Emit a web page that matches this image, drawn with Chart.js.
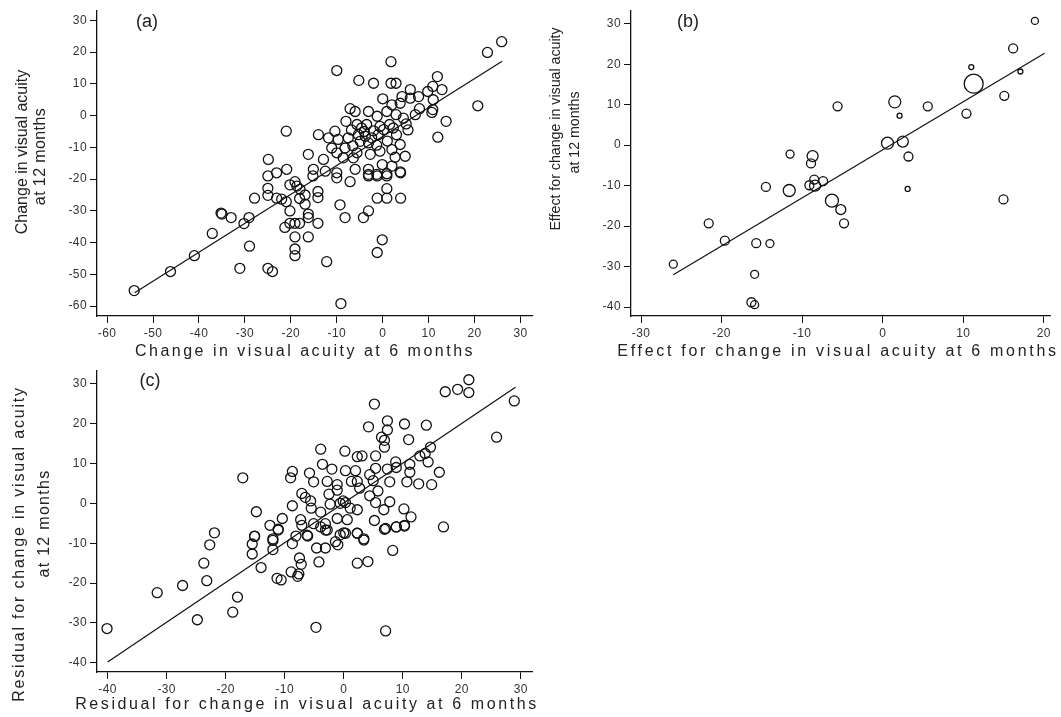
<!DOCTYPE html>
<html>
<head>
<meta charset="utf-8">
<script src="https://cdn.jsdelivr.net/npm/chart.js@4.4.1/dist/chart.umd.min.js"></script>
<style>
  body{margin:0;background:#fff;}
  #wrap{position:relative;width:1061px;height:717px;}
  canvas{position:absolute;}
</style>
</head>
<body>
<div id="wrap">
  <canvas id="chartA" width="540" height="365" style="left:0;top:0"></canvas>
  <canvas id="chartB" width="521" height="365" style="left:540px;top:0"></canvas>
  <canvas id="chartC" width="540" height="357" style="left:0;top:360px"></canvas>
</div>
<script>
// ---- data: panel (a) change at 6 vs 12 months ----
const aX=[25.9,22.8,1.8,-10.0,-5.2,-2.0,1.8,2.9,11.9,10.9,12.9,6.0,4.2,9.8,7.8,11.0,0.0,6.0,20.7,10.9,10.7,3.8,2.0,8.0,7.1,13.8,12.0,
  -7.1,-6.0,-3.1,0.9,-1.2,2.9,4.5,5.1,2.3,1.5,-8.0,-5.6,-4.6,-3.5,-0.6,0.2,-5.3,-3.8,-2.4,-4.9,-3.1,-1.3,3.8,
  -21.0,-14.0,-11.8,-10.4,-9.7,-8.2,-11.1,-10.0,-16.2,-12.9,-8.6,-6.4,-5.6,-2.7,-0.6,2.0,4.9,2.7,
  -24.9,-20.9,-23.1,-15.1,-12.5,-10.0,-6.0,-3.1,-1.3,0.9,3.8,-0.1,2.0,
  -25.0,-25.0,-25.0,-27.9,-23.1,-22.0,-21.0,-20.2,-20.2,-19.1,-18.7,-18.0,-16.9,-18.1,-16.9,-16.2,-16.2,-14.1,-14.1,-14.1,
  -21.3,-20.2,-19.1,-18.1,-19.1,-19.1,-19.1,-16.2,-35.2,-35.0,-33.0,-30.2,-29.1,-37.1,-29.0,-41.0,-31.1,-25.0,-24.0,-46.2,-54.1,
  -12.2,-9.1,-9.3,-8.2,-4.2,-3.1,-0.1,-1.2,-1.2,0.9,3.9,0.9,-1.2,0.9,3.9,-3.1,-3.1,-7.1,-10.0,-15.2,
  -6.8,-4.0,-2.0,-6.5,-1.0,1.0,3.0,5.5,-7.5];
const aY=[23.3,19.9,17.0,14.2,11.1,10.2,10.2,10.2,12.3,9.2,8.2,8.2,6.0,7.6,6.0,5.0,5.3,5.5,3.1,1.9,1.0,3.9,3.4,2.2,0.3,-1.8,-6.8,
  2.2,1.3,1.3,1.3,-0.2,0.3,-0.8,-2.6,-3.9,-2.8,-1.8,-2.8,-3.9,-2.8,-3.4,-4.4,-6.0,-6.5,-7.0,-8.1,-8.6,-9.3,-9.1,
  -4.9,-6.0,-7.0,-4.9,-7.5,-10.2,-10.2,-11.7,-12.2,-13.8,-13.3,-13.3,-11.7,-12.2,-11.2,-10.7,-12.8,-13.1,
  -13.8,-16.9,-18.0,-16.9,-17.5,-18.0,-16.9,-18.5,-18.5,-18.3,-17.7,-15.4,-15.9,
  -19.0,-22.9,-25.1,-26.0,-26.0,-26.3,-27.1,-30.0,-21.8,-20.8,-22.2,-23.2,-25.0,-26.1,-27.9,-31.0,-32.1,-23.9,-25.8,-33.9,
  -35.2,-33.9,-33.9,-33.9,-38.2,-42.0,-44.1,-38.2,-30.7,-31.0,-32.1,-34.0,-32.1,-37.1,-41.1,-44.1,-48.1,-48.1,-49.1,-49.1,-55.1,
  -46.0,-59.2,-28.1,-32.1,-32.1,-30.0,-39.1,-43.1,-26.0,-26.0,-26.0,-23.0,-19.0,-19.0,-18.0,-19.0,-16.9,-20.8,-19.6,-19.0,
  -4.5,-5.0,-4.8,-9.5,-6.0,-8.0,-6.0,-4.5,-7.0];
const aFitX=[-54.0,26.0];
const aFitY=[-55.8,17.1];

// ---- data: panel (b) effects, circle size = weight ----
const bX=[18.9,16.2,17.1,11.0,11.3,15.1,10.4,5.6,1.5,2.1,0.6,2.5,3.2,-5.6,-11.5,-8.7,-8.9,
  -14.5,-11.6,-9.1,-8.5,-8.4,-7.4,-6.3,-5.2,-4.8,3.1,15.0,-21.6,-19.6,-15.7,-14.0,-26.0,-15.9,-16.3,-15.9];
const bY=[30.7,23.9,18.2,19.3,15.2,12.2,7.8,9.6,10.7,7.3,0.5,0.9,-2.8,9.6,-2.2,-2.7,-4.5,
  -10.3,-11.2,-9.9,-8.5,-10.0,-8.9,-13.7,-15.9,-19.3,-10.8,-13.4,-19.3,-23.6,-24.2,-24.3,-29.4,-31.9,-38.8,-39.4];
const bSize=[3.5,4.5,2.5,2.5,9.5,4.5,4.5,4.5,6,2.5,6,5.5,4.5,4.5,4,5.5,4.5,
  4.5,6,4.5,4.5,5.5,4.5,6.5,5,4.5,2.5,4.5,4.5,4.5,4.5,4,4,4,4.5,4];
const bFitX=[-26.0,20.1];
const bFitY=[-32.0,22.7];

// ---- data: panel (c) residuals ----
const cX=[21.2,17.2,19.3,21.2,28.9,5.2,25.9,7.4,7.4,4.2,10.3,14.0,11.0,6.4,6.9,6.9,14.7,13.8,14.3,12.9,
  -3.9,0.2,5.4,2.3,3.1,-3.6,-2.0,0.3,2.0,5.4,7.4,8.8,8.9,11.2,16.2,11.2,10.7,12.7,14.9,7.8,
  4.4,5.0,2.3,1.3,2.7,5.8,4.4,5.4,7.8,6.8,10.2,11.4,16.9,10.3,8.9,7.1,5.2,
  -17.1,-9.0,-8.7,-5.8,-5.1,-2.8,-1.1,-7.1,-6.5,-5.6,-5.5,-8.7,-2.5,-1.1,-0.1,0.3,-0.6,1.1,2.3,-2.3,-3.9,-3.1,-1.1,0.6,
  -14.8,-10.4,-12.5,-11.1,-7.1,-7.3,-5.1,-3.9,-2.8,0.0,2.3,-21.9,-15.1,-6.2,3.4,-12.0,
  -22.7,-23.7,-23.2,-27.3,-31.6,-24.8,-18.8,-18.0,-40.1,-4.7,7.1,-15.1,-15.5,-15.5,-14.0,-12.0,-12.0,-11.1,-11.3,-10.6,
  -8.7,-8.1,-6.1,-7.5,-7.2,-8.9,-7.6,-7.8,-4.2,-4.6,-3.1,-3.1,-1.4,-1.0,-0.6,0.3,2.3,3.4,2.3,4.1,8.3,6.9,8.9,10.3];
const cY=[31.0,28.0,28.6,27.8,25.7,24.9,16.6,20.7,18.4,19.2,19.9,19.6,16.0,16.6,15.8,14.1,14.1,12.5,10.4,11.9,
  13.6,13.1,11.9,11.7,11.9,9.8,8.6,8.2,8.2,8.8,8.6,10.4,9.0,9.8,7.8,7.8,5.4,4.9,4.7,5.4,
  7.2,5.7,5.5,5.5,3.8,3.1,1.9,0.2,0.4,-1.6,-1.4,-3.4,-5.9,-5.5,-5.9,-6.3,-4.3,
  6.4,6.4,8.0,7.6,5.4,5.5,4.7,2.5,1.5,0.6,-1.2,-0.6,2.3,3.3,0.6,0.2,0.0,-1.2,-1.6,-0.2,-2.2,-5.1,-3.8,-4.1,
  -2.1,-3.8,-5.5,-6.5,-5.5,-4.1,-5.1,-5.9,-6.7,-7.4,-7.5,-7.4,-8.2,-8.0,-8.9,-8.9,
  -10.4,-15.0,-19.4,-20.6,-22.4,-29.2,-27.3,-23.5,-31.4,-31.1,-32.0,-8.3,-10.2,-12.7,-16.1,-9.3,-11.6,-6.7,-18.8,-19.2,
  -10.1,-8.2,-8.2,-13.7,-15.3,-17.2,-17.7,-18.3,-14.7,-11.2,-11.2,-6.7,-9.6,-10.4,-7.9,-7.5,-7.5,-9.2,-15.0,-14.6,-11.8,-6.5,-5.9,-5.7];
const cFitX=[-40.0,29.1];
const cFitY=[-39.8,29.1];

// ---- tick labels ----
const aXTicks=[-60,-50,-40,-30,-20,-10,0,10,20,30];
const aYTicks=[-60,-50,-40,-30,-20,-10,0,10,20,30];
const bXTicks=[-30,-20,-10,0,10,20];
const bYTicks=[-40,-30,-20,-10,0,10,20,30];
const cXTicks=[-40,-30,-20,-10,0,10,20,30];
const cYTicks=[-40,-30,-20,-10,0,10,20,30];

const FONT='"Liberation Sans", Arial, Helvetica, sans-serif';
const pts=(xs,ys)=>xs.map((x,i)=>({x,y:ys[i]}));

// panel captions and axis titles, drawn with letter spacing
const panelText={
  id:'panelText',
  beforeDraw(chart){ chart.ctx.letterSpacing='0.4px'; },
  afterDraw(chart,args,o){
    const ctx=chart.ctx;
    ctx.save();
    ctx.fillStyle='#222';
    ctx.textAlign='center';ctx.textBaseline='middle';
    ctx.font='18px '+FONT;ctx.letterSpacing='0px';
    ctx.fillText(o.tag,o.tagX,o.tagY);
    ctx.font=o.xSize+'px '+FONT;ctx.letterSpacing=o.xSpacing+'px';
    ctx.fillText(o.xTitle,o.xTitleX,o.xTitleY);
    o.yTitle.forEach((t,i)=>{
      ctx.save();
      ctx.translate(o.yTitleX[i],o.yTitleY[i]);
      ctx.rotate(-Math.PI/2);
      ctx.font=o.ySize+'px '+FONT;ctx.letterSpacing=o.ySpacing[i]+'px';
      ctx.fillText(t,0,0);
      ctx.restore();
    });
    ctx.restore();
  }
};

function axis(ticks,min,max,isX){
  return {
    type:'linear',min:min,max:max,
    afterBuildTicks:s=>{s.ticks=ticks.map(v=>({value:v}));},
    afterFit:s=>{ if(isX) s.height=30; else s.width=40; },
    grid:{drawOnChartArea:false,drawTicks:true,tickLength:7,color:'#111',lineWidth:1},
    border:{display:true,color:'#111',width:1.3},
    ticks:{color:'#333',padding:3,font:{family:FONT,size:12},maxRotation:0,autoSkip:false}
  };
}

function makePanel(id,cfg){
  new Chart(document.getElementById(id),{
    type:'scatter',
    data:{datasets:[
      {data:cfg.points,pointRadius:cfg.radius,pointBorderColor:'#111',pointBackgroundColor:'rgba(0,0,0,0)',pointBorderWidth:1.3},
      {data:cfg.fit,showLine:true,pointRadius:0,borderColor:'#111',borderWidth:1.2}
    ]},
    options:{
      responsive:false,animation:false,
      layout:{padding:cfg.padding},
      plugins:{legend:{display:false},tooltip:{enabled:false},panelText:cfg.text},
      scales:{x:axis(cfg.xTicks,cfg.xMin,cfg.xMax,true),y:axis(cfg.yTicks,cfg.yMin,cfg.yMax,false)}
    },
    plugins:[panelText]
  });
}

// (a)
makePanel('chartA',{
  points:pts(aX,aY),radius:5,fit:pts(aFitX,aFitY),
  xTicks:aXTicks,yTicks:aYTicks,xMin:-62.2,xMax:32.5,yMin:-63.1,yMax:33.2,
  padding:{left:57,right:8,top:8,bottom:19},
  text:{tag:'(a)',tagX:147,tagY:22,
    xTitle:'Change in visual acuity at 6 months',xTitleX:305,xTitleY:352,xSize:16,xSpacing:2.5,
    yTitle:['Change in visual acuity','at 12 months'],yTitleX:[22.5,40.5],yTitleY:[152,156.5],ySize:16,ySpacing:[0,0.4]}
});

// (b)
makePanel('chartB',{
  points:pts(bX,bY),radius:bSize,fit:pts(bFitX,bFitY),
  xTicks:bXTicks,yTicks:bYTicks,xMin:-31.25,xMax:20.8,yMin:-42.2,yMax:33.2,
  padding:{left:51,right:1,top:8,bottom:19},
  text:{tag:'(b)',tagX:148,tagY:22,
    xTitle:'Effect for change in visual acuity at 6 months',xTitleX:298,xTitleY:352,xSize:16,xSpacing:2.7,
    yTitle:['Effect for change in visual acuity','at 12 months'],yTitleX:[16,35.5],yTitleY:[129,132.5],ySize:14.2,ySpacing:[0,0]}
});

// (c)
makePanel('chartC',{
  points:pts(cX,cY),radius:5,fit:pts(cFitX,cFitY),
  xTicks:cXTicks,yTicks:cYTicks,xMin:-41.8,xMax:31.9,yMin:-42.3,yMax:33.4,
  padding:{left:57,right:8,top:3,bottom:15},
  text:{tag:'(c)',tagX:150,tagY:21,
    xTitle:'Residual for change in visual acuity at 6 months',xTitleX:307,xTitleY:345,xSize:16,xSpacing:2.6,
    yTitle:['Residual for change in visual acuity','at 12 months'],yTitleX:[20,45],yTitleY:[184,163.5],ySize:16,ySpacing:[1.8,1.3]}
});
</script>
</body>
</html>
